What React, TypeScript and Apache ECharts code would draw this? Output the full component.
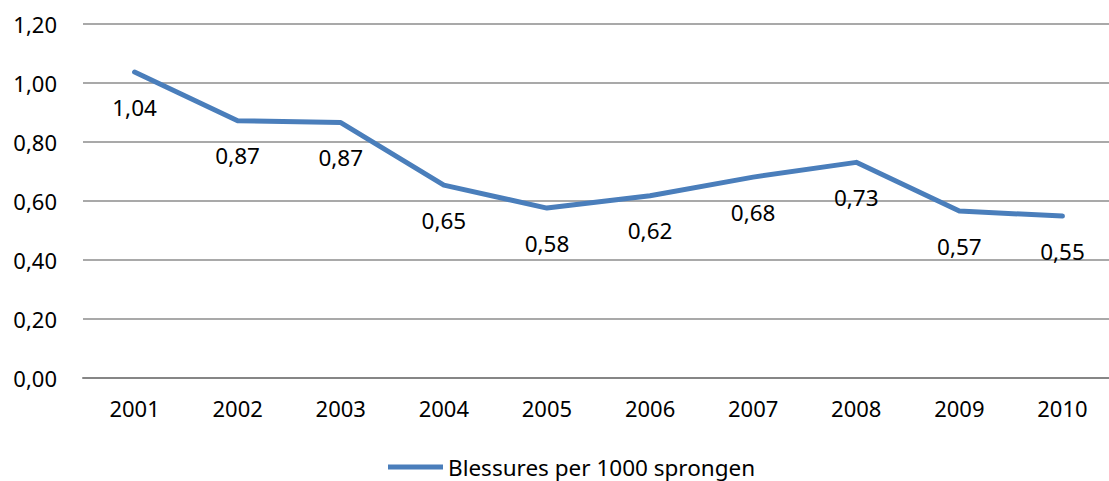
import React, { useEffect, useRef } from "react";
import * as echarts from "echarts";

const categories = ["2001", "2002", "2003", "2004", "2005", "2006", "2007", "2008", "2009", "2010"];
const values = [1.037, 0.872, 0.866, 0.654, 0.576, 0.618, 0.681, 0.731, 0.566, 0.549];
const seriesName = "Blessures per 1000 sprongen";
const yTicks = [0, 0.2, 0.4, 0.6, 0.8, 1.0, 1.2];

const fmt = (v: number) => v.toFixed(2).replace(".", ",");
const FONT = "Noto Sans";

export default function App() {
  const ref = useRef<HTMLDivElement>(null);
  useEffect(() => {
    if (!ref.current) return;
    const chart = echarts.init(ref.current, undefined, { renderer: "svg" });
    chart.setOption({
      animation: false,
      backgroundColor: "#ffffff",
      textStyle: { fontFamily: FONT },
      grid: { left: 83, right: 0, top: 24, bottom: 103, containLabel: false },
      legend: {
        data: [seriesName],
        left: 388,
        top: 455,
        padding: 0,
        icon: "rect",
        itemWidth: 55,
        itemHeight: 5,
        itemGap: 5,
        textStyle: {
          fontFamily: FONT,
          fontSize: 22.5,
          lineHeight: 24,
          color: "#000",
        },
      },
      xAxis: {
        type: "category",
        data: categories,
        boundaryGap: true,
        axisLine: { show: true, lineStyle: { color: "#868686", width: 2 } },
        axisTick: { show: false },
        axisLabel: { fontFamily: FONT, fontSize: 22, color: "#000", margin: 19 },
      },
      yAxis: {
        type: "value",
        min: yTicks[0],
        max: yTicks[yTicks.length - 1],
        interval: 0.2,
        axisLine: { show: false },
        axisTick: { show: false },
        splitLine: { lineStyle: { color: "#8c8c8c", width: 1.5 } },
        axisLabel: {
          fontFamily: FONT,
          fontSize: 22,
          color: "#000",
          margin: 26,
          formatter: (v: number) => fmt(v),
        },
      },
      series: [
        {
          name: seriesName,
          type: "line",
          data: values,
          symbol: "circle",
          symbolSize: 1,
          showSymbol: true,
          lineStyle: { color: "#4a7ebb", width: 5, cap: "round", join: "round" },
          itemStyle: { color: "#4a7ebb" },
          label: {
            show: true,
            position: "bottom",
            distance: 23,
            fontFamily: FONT,
            fontSize: 22.5,
            color: "#000",
            formatter: (p: any) => fmt(p.value),
          },
        },
      ],
    });
    return () => chart.dispose();
  }, []);
  return (
    <div style={{ position: "absolute", left: 0, top: 0, width: 1109, height: 481, overflow: "hidden" }}>
      <div ref={ref} style={{ width: 1114, height: 481 }} />
    </div>
  );
}
